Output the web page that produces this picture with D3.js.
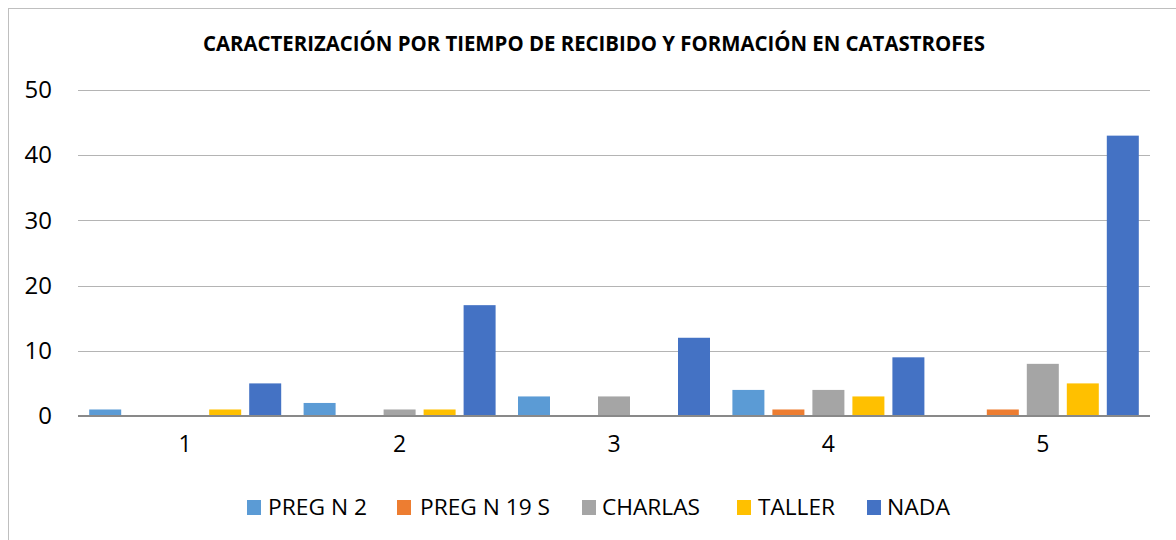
<!DOCTYPE html>
<html>
<head>
<meta charset="utf-8">
<script src="https://cdn.jsdelivr.net/npm/d3@7"></script>
<style>
  html, body { margin: 0; padding: 0; background: #fff; }
  svg { display: block; }
  text { font-family: "Open Sans", "Noto Sans", sans-serif; fill: #000; }
</style>
</head>
<body>
<svg id="chart" width="1176" height="540"></svg>
<script>
// Categories (time groups) and series
const categories = ["1", "2", "3", "4", "5"];
const seriesNames = ["PREG N 2", "PREG N 19 S", "CHARLAS", "TALLER", "NADA"];
const seriesColors = ["#5B9BD5", "#ED7D31", "#A5A5A5", "#FFC000", "#4472C4"];

const pregN2   = [1, 2, 3, 4, 0];
const pregN19S = [0, 0, 0, 1, 1];
const charlas  = [0, 1, 3, 4, 8];
const taller   = [1, 1, 0, 3, 5];
const nada     = [5, 17, 12, 9, 43];
const seriesValues = [pregN2, pregN19S, charlas, taller, nada];

const yTicks = [0, 10, 20, 30, 40, 50];
const title = "CARACTERIZACIÓN POR TIEMPO DE RECIBIDO Y FORMACIÓN EN CATASTROFES";

const svg = d3.select("#chart");

// Outer chart border
svg.append("rect")
  .attr("x", 8.5).attr("y", 8.5)
  .attr("width", 1180).attr("height", 540)
  .attr("fill", "#fff")
  .attr("stroke", "#bfbfbf").attr("stroke-width", 1);

const x0 = d3.scaleBand().domain(categories).range([78, 1150]);
const x1 = d3.scaleBand().domain(seriesNames).range([-100, 100])
  .paddingInner(0.2).paddingOuter(0.1);
const y = d3.scaleLinear().domain([0, 50]).range([416, 90]);

// Gridlines
svg.append("g")
  .selectAll("line")
  .data(yTicks.filter(t => t !== 0))
  .join("line")
  .attr("x1", 78).attr("x2", 1150)
  .attr("y1", d => Math.round(y(d)) + 0.5)
  .attr("y2", d => Math.round(y(d)) + 0.5)
  .attr("stroke", "#b4b4b4").attr("stroke-width", 1);

// Y axis labels
const yAxis = d3.axisLeft(y).tickValues(yTicks).tickSize(0).tickPadding(0);
const yg = svg.append("g").attr("transform", "translate(52,0)").call(yAxis);
yg.select(".domain").remove();
yg.selectAll("text")
  .attr("font-size", 24)
  .attr("font-family", "Open Sans, sans-serif")
  .attr("fill", "#000");

// Bars
const groups = svg.append("g")
  .selectAll("g")
  .data(categories)
  .join("g")
  .attr("transform", c => `translate(${x0(c) + x0.bandwidth() / 2},0)`);

groups.selectAll("rect")
  .data((c, ci) => seriesNames.map((s, si) => ({ s, si, v: seriesValues[si][ci] })))
  .join("rect")
  .attr("x", d => x1(d.s))
  .attr("width", x1.bandwidth())
  .attr("y", d => y(d.v))
  .attr("height", d => y(0) - y(d.v))
  .attr("fill", d => seriesColors[d.si]);

// X axis line
svg.append("line")
  .attr("x1", 78).attr("x2", 1150)
  .attr("y1", y(0)).attr("y2", y(0))
  .attr("stroke", "#898989").attr("stroke-width", 2);

// X axis labels
const xAxis = d3.axisBottom(x0).tickSize(0).tickPadding(0);
const xg = svg.append("g").attr("transform", "translate(0,436)").call(xAxis);
xg.select(".domain").remove();
xg.selectAll("text")
  .attr("font-size", 23)
  .attr("font-family", "Open Sans, sans-serif")
  .attr("fill", "#000");

// Title
svg.append("text")
  .attr("x", 594).attr("y", 51)
  .attr("text-anchor", "middle")
  .attr("font-size", 21)
  .attr("font-weight", "bold")
  .attr("textLength", 782)
  .attr("lengthAdjust", "spacingAndGlyphs")
  .text(title);

// Legend
const legendX = [247, 397, 582, 737, 867];
const legendTextX = [268, 420, 602, 758, 887];
const legendW = [99, 130, 98, 77, 63];
const legend = svg.append("g")
  .selectAll("g")
  .data(seriesNames)
  .join("g");
legend.append("rect")
  .attr("x", (d, i) => legendX[i]).attr("y", 500)
  .attr("width", 14).attr("height", 15)
  .attr("fill", (d, i) => seriesColors[i]);
legend.append("text")
  .attr("x", (d, i) => legendTextX[i]).attr("y", 515)
  .attr("font-size", 22)
  .attr("textLength", (d, i) => legendW[i])
  .attr("lengthAdjust", "spacingAndGlyphs")
  .text(d => d);
</script>
</body>
</html>
